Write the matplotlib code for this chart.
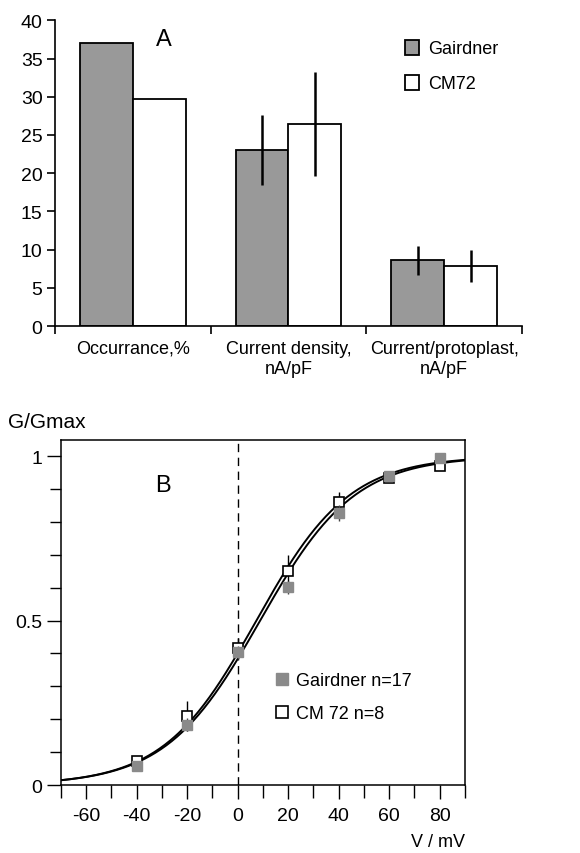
import matplotlib.pyplot as plt
import numpy as np
from matplotlib.lines import Line2D
from matplotlib.patches import Patch

plt.rcParams['font.family'] = ['Liberation Sans', 'DejaVu Sans']
plt.rcParams['axes.unicode_minus'] = False

# Panel A data
categories = ['Occurrance,%', 'Current density,\nnA/pF', 'Current/protoplast,\nnA/pF']
gairdner_vals = [37.0, 23.0, 8.6]
gairdner_err = [0, 4.6, 1.9]
cm72_vals = [29.7, 26.5, 7.9]
cm72_err = [0, 6.8, 2.1]

# Panel B data
voltages = [-40, -20, 0, 20, 40, 60, 80]
gairdner_g = [0.057, 0.183, 0.404, 0.601, 0.827, 0.939, 0.994]
gairdner_g_err = [0.015, 0.02, 0.02, 0.02, 0.025, 0.01, 0.01]
cm72_g = [0.072, 0.209, 0.416, 0.650, 0.860, 0.935, 0.971]
cm72_g_err = [0.01, 0.045, 0.03, 0.05, 0.03, 0.015, 0.01]

# Boltzmann fit parameters (V1/2, slope k)
gairdner_fit = (8.9, 18.7)
cm72_fit = (7.4, 18.4)

FS = 13
TFS = 14

fig = plt.figure(figsize=(5.8, 8.54), dpi=100)

# ---- Panel A ----
ax1 = fig.add_axes([0.0948, 0.617, 0.805, 0.358])
x = np.arange(len(categories))
w = 0.34
ax1.bar(x - w / 2, gairdner_vals, w, color='#999999', edgecolor='black', linewidth=1.3, zorder=2)
ax1.bar(x + w / 2, cm72_vals, w, color='white', edgecolor='black', linewidth=1.3, zorder=2)
ax1.errorbar(x[1:] - w / 2, gairdner_vals[1:], yerr=gairdner_err[1:], fmt='none',
             ecolor='black', elinewidth=1.8, capsize=0, zorder=3)
ax1.errorbar(x[1:] + w / 2, cm72_vals[1:], yerr=cm72_err[1:], fmt='none',
             ecolor='black', elinewidth=1.8, capsize=0, zorder=3)

ax1.set_xlim(-0.5, 2.5)
ax1.set_ylim(0, 40)
ax1.set_yticks(range(0, 41, 5))
ax1.set_xticks([-0.5, 0.5, 1.5, 2.5])
ax1.set_xticklabels([])
ax1.set_xticks(x, minor=True)
ax1.set_xticklabels(categories, minor=True)
ax1.tick_params(axis='x', which='minor', length=0, pad=10, labelsize=FS)
ax1.tick_params(axis='x', which='major', length=6, width=1.2)
ax1.tick_params(axis='y', length=6, width=1.2, labelsize=TFS, pad=3)
ax1.spines['top'].set_visible(False)
ax1.spines['right'].set_visible(False)
ax1.spines['left'].set_linewidth(1.2)
ax1.spines['bottom'].set_linewidth(1.2)
ax1.text(0.234, 0.94, 'A', transform=ax1.transAxes, fontsize=17, ha='center', va='center')
h1 = [Patch(facecolor='#999999', edgecolor='black', linewidth=1.3),
      Patch(facecolor='white', edgecolor='black', linewidth=1.3)]
ax1.legend(h1, ['Gairdner', 'CM72'], loc='upper left', bbox_to_anchor=(0.715, 0.99),
           frameon=False, fontsize=FS, handlelength=0.75, handleheight=0.9,
           handletextpad=0.55, labelspacing=0.95)

# ---- Panel B ----
ax2 = fig.add_axes([0.105, 0.0796, 0.6966, 0.4043])
vv = np.linspace(-70, 90, 300)
for vh, k in (gairdner_fit, cm72_fit):
    ax2.plot(vv, 1 / (1 + np.exp((vh - vv) / k)), color='black', linewidth=1.4, zorder=2)
ax2.axvline(0, color='black', linestyle=(0, (6, 4)), linewidth=1.0, zorder=1)

ax2.errorbar(voltages, cm72_g, yerr=cm72_g_err, fmt='s', color='black', mfc='white',
             mec='black', ms=7, mew=1.2, elinewidth=1.0, capsize=0, zorder=3)
ax2.errorbar(voltages, gairdner_g, yerr=gairdner_g_err, fmt='s', color='#444444', mfc='#8a8a8a',
             mec='#8a8a8a', ms=7, elinewidth=1.0, capsize=0, zorder=4)

ax2.set_xlim(-70, 90)
ax2.set_ylim(0, 1.05)
ax2.set_xticks(range(-60, 81, 20))
ax2.set_xticks(range(-70, 91, 10), minor=True)
ax2.set_yticks([0, 0.5, 1])
ax2.set_yticklabels(['0', '0.5', '1'])
ax2.set_yticks(np.arange(0, 1.01, 0.1), minor=True)
ax2.tick_params(axis='both', which='both', direction='out', width=1.0)
ax2.tick_params(axis='both', which='major', length=10, labelsize=TFS)
ax2.tick_params(axis='x', which='major', pad=6)
ax2.tick_params(axis='x', which='minor', length=9)
ax2.tick_params(axis='y', which='minor', length=8)
for s in ax2.spines.values():
    s.set_linewidth(1.1)
ax2.text(0.253, 0.87, 'B', transform=ax2.transAxes, fontsize=17, ha='center', va='center')
h2 = [Line2D([], [], marker='s', linestyle='none', mfc='#8a8a8a', mec='#8a8a8a', ms=8),
      Line2D([], [], marker='s', linestyle='none', mfc='white', mec='black', mew=1.2, ms=8)]
ax2.legend(h2, ['Gairdner n=17', 'CM 72 n=8'], loc='upper left', bbox_to_anchor=(0.493, 0.374),
           frameon=False, fontsize=FS, handlelength=0.6, handletextpad=0.5, labelspacing=0.9)

fig.text(8 / 580, 1 - 423 / 854, 'G/Gmax', fontsize=15, ha='left', va='center')
fig.text(465 / 580, 1 - 843 / 854, 'V / mV', fontsize=FS, ha='right', va='center')

fig.savefig('out.png', dpi=100)
